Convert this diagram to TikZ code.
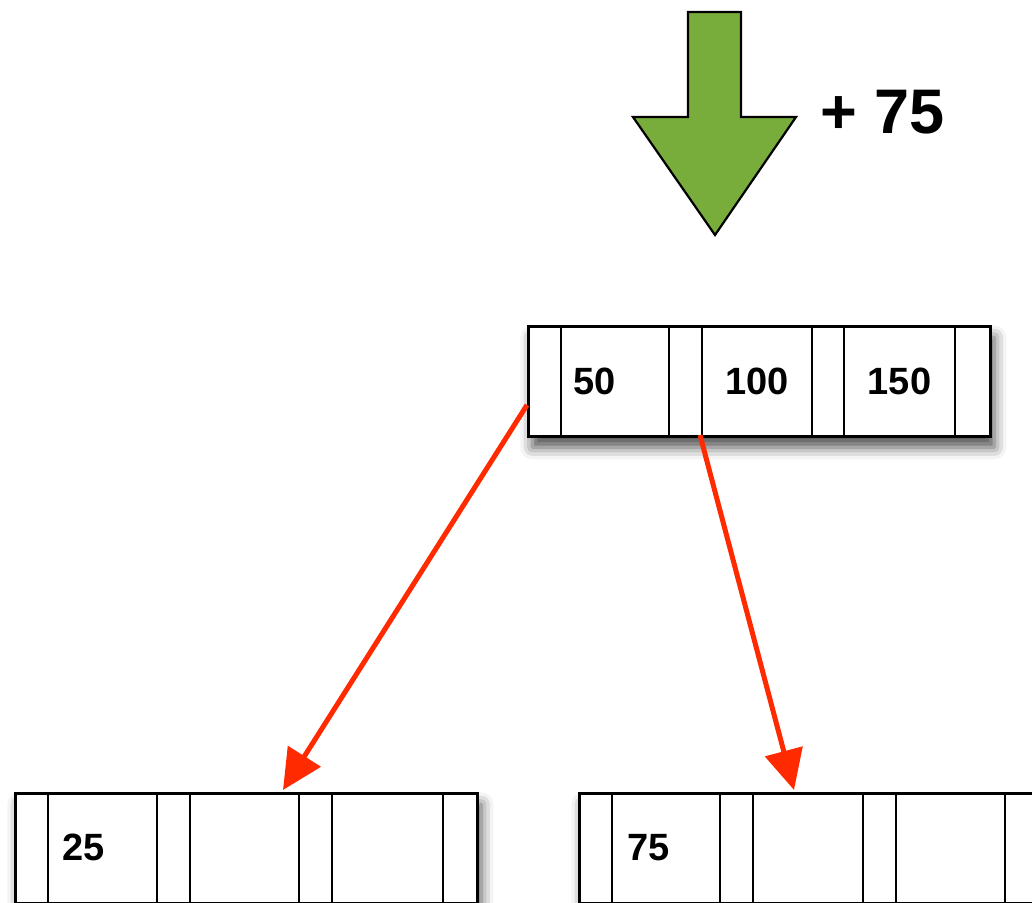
\documentclass[tikz,border=0pt]{standalone}
\usepackage{fontspec}
\setmainfont{Liberation Sans}
\usetikzlibrary{arrows.meta,shadows.blur}

\definecolor{insertgreen}{RGB}{121,173,59}
\definecolor{ptrred}{RGB}{255,42,0}

\tikzset{
  btnode/.style={draw=black, fill=white, line width=2.6pt, inner sep=0pt,
    minimum width=#1, minimum height=110pt, anchor=north west,
    blur shadow={shadow xshift=4pt, shadow yshift=-11pt,
      shadow blur radius=12pt, shadow opacity=70}},
  divider/.style={draw=black, line width=2.4pt},
  keytext/.style={font=\fontsize{38}{40}\selectfont\bfseries, inner sep=0pt},
  insarrow/.style={draw=black, fill=insertgreen, line width=2.2pt, line join=miter},
  ptr/.style={draw=ptrred, line width=5pt,
    -{Triangle[length=40pt,width=38pt]}},
}

\begin{document}
\begin{tikzpicture}[x=1pt, y=-1pt]
  \useasboundingbox (0,0) rectangle (1032,902);
  \clip (0,0) rectangle (1032,902);

  % incoming key: green down arrow with its label
  \draw[insarrow] (688,12) -- (741,12) -- (741,117) -- (796,117)
    -- (715,235) -- (633,117) -- (688,117) -- cycle;
  \node[font=\fontsize{63}{66}\selectfont\bfseries, inner sep=0pt, anchor=base west]
    (newkey) at (820,133) {+ 75};

  % root node
  \node[btnode=462pt] (root) at (527,325) {};
  \foreach \x in {561,669,702,812,844,955}
    \draw[divider] (\x,325) -- (\x,435);
  \node[keytext, anchor=base west] (k50)  at (573,394) {50};
  \node[keytext, anchor=base]      (k100) at (757,394) {100};
  \node[keytext, anchor=base]      (k150) at (899.5,394) {150};

  % left leaf
  \node[btnode=462pt] (leafA) at (14,792) {};
  \foreach \x in {48,157,190,299,332,443}
    \draw[divider] (\x,792) -- (\x,902);
  \node[keytext, anchor=base west] (k25) at (62,860) {25};

  % right leaf
  \node[btnode=462pt] (leafB) at (578,792) {};
  \foreach \x in {612,720,753,863,896,1005}
    \draw[divider] (\x,792) -- (\x,902);
  \node[keytext, anchor=base west] (k75) at (627,860) {75};

  % child pointers
  \coordinate (p0) at (527,405);
  \coordinate (p1) at (700,435);
  \coordinate (inA) at (283,790);
  \coordinate (inB) at (794,790);
  \draw[ptr] (p0) -- (inA);
  \draw[ptr] (p1) -- (inB);
\end{tikzpicture}
\end{document}
